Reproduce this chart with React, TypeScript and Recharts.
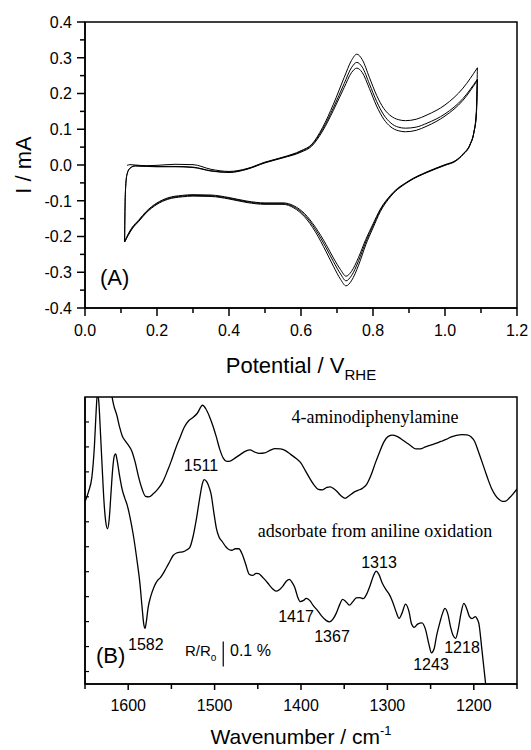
import { LineChart, Line, XAxis, YAxis, ReferenceArea, ReferenceLine, Label } from 'recharts'

const SANS = '"Liberation Sans", Arial, sans-serif'
const SERIF = '"Liberation Serif", "Times New Roman", serif'

// (A) cyclic voltammogram, three cycles
const cvXTicks = [0, 0.1, 0.2, 0.3, 0.4, 0.5, 0.6, 0.7, 0.8, 0.9, 1.0, 1.1, 1.2]
const cvYTicks = [-0.4, -0.35, -0.3, -0.25, -0.2, -0.15, -0.1, -0.05, 0, 0.05, 0.1, 0.15, 0.2, 0.25, 0.3, 0.35, 0.4]

const anodicV = [0.11, 0.111, 0.113, 0.117, 0.125, 0.14, 0.17, 0.2, 0.25, 0.3, 0.35, 0.4, 0.45, 0.5, 0.55, 0.6, 0.63, 0.66, 0.69, 0.72, 0.74, 0.755, 0.77, 0.79, 0.81, 0.83, 0.85, 0.87, 0.89, 0.92, 0.95, 1.0, 1.05, 1.09]
const anodicI1 = [null, null, null, -0.001, 0.001, 0.0, -0.002, -0.001, 0.002, 0.001, -0.012, -0.018, -0.01, 0.008, 0.022, 0.04, 0.058, 0.105, 0.17, 0.245, 0.292, 0.31, 0.295, 0.245, 0.195, 0.158, 0.137, 0.127, 0.124, 0.128, 0.14, 0.168, 0.215, 0.272]
const anodicI2 = [-0.215, -0.13, -0.06, -0.025, -0.009, -0.002, -0.003, -0.004, -0.004, -0.006, -0.016, -0.02, -0.011, 0.007, 0.021, 0.038, 0.056, 0.1, 0.16, 0.228, 0.272, 0.287, 0.274, 0.227, 0.178, 0.14, 0.117, 0.106, 0.103, 0.106, 0.117, 0.143, 0.186, 0.24]
const anodicI3 = [-0.215, -0.13, -0.06, -0.025, -0.009, -0.003, -0.004, -0.005, -0.005, -0.007, -0.017, -0.021, -0.012, 0.006, 0.02, 0.036, 0.053, 0.095, 0.153, 0.217, 0.258, 0.271, 0.259, 0.214, 0.165, 0.128, 0.106, 0.096, 0.093, 0.097, 0.109, 0.137, 0.181, 0.237]

const cathodicV = [0.11, 0.12, 0.13, 0.15, 0.17, 0.2, 0.23, 0.27, 0.3, 0.35, 0.4, 0.45, 0.5, 0.55, 0.58, 0.61, 0.64, 0.67, 0.69, 0.71, 0.725, 0.74, 0.76, 0.78, 0.8, 0.82, 0.85, 0.9, 0.95, 1.0, 1.03, 1.05, 1.07, 1.08, 1.087, 1.09]
const cathodicI1 = [-0.215, -0.197, -0.18, -0.157, -0.134, -0.11, -0.096, -0.089, -0.087, -0.088, -0.095, -0.105, -0.11, -0.11, -0.12, -0.145, -0.187, -0.243, -0.283, -0.32, -0.338, -0.324, -0.28, -0.223, -0.176, -0.131, -0.087, -0.046, -0.021, -0.001, 0.011, 0.029, 0.057, 0.09, 0.15, 0.272]
const cathodicI2 = [-0.215, -0.195, -0.178, -0.155, -0.132, -0.108, -0.094, -0.087, -0.085, -0.086, -0.093, -0.103, -0.108, -0.108, -0.117, -0.14, -0.18, -0.232, -0.27, -0.305, -0.324, -0.31, -0.268, -0.215, -0.17, -0.127, -0.085, -0.045, -0.02, 0.0, 0.012, 0.03, 0.058, 0.09, 0.14, 0.24]
const cathodicI3 = [-0.215, -0.193, -0.176, -0.153, -0.13, -0.106, -0.092, -0.085, -0.083, -0.084, -0.091, -0.101, -0.106, -0.106, -0.114, -0.136, -0.174, -0.223, -0.26, -0.293, -0.311, -0.298, -0.258, -0.208, -0.165, -0.124, -0.083, -0.044, -0.019, 0.001, 0.013, 0.031, 0.059, 0.09, 0.14, 0.237]

// (B) IR spectra, R/R0 in units of 0.1 %
const irXTicks = [1650, 1600, 1550, 1500, 1450, 1400, 1350, 1300, 1250, 1200, 1150]
const irYTicks = [0.5, 1.5, 2.5, 3.5, 4.5, 5.5, 6.5, 7.5, 8.5, 9.5, 10.5]

const adpaWn = [1650, 1640, 1630, 1623, 1620, 1617, 1613, 1610, 1607, 1603, 1600, 1596, 1592, 1588, 1584, 1580, 1576, 1571, 1566, 1560, 1555, 1550, 1545, 1540, 1535, 1530, 1525, 1520, 1514, 1510, 1506, 1502, 1498, 1494, 1490, 1486, 1482, 1476, 1470, 1464, 1459, 1454, 1448, 1442, 1436, 1430, 1424, 1418, 1412, 1406, 1400, 1395, 1390, 1385, 1380, 1375, 1370, 1366, 1362, 1358, 1354, 1349, 1344, 1339, 1334, 1329, 1324, 1319, 1314, 1309, 1304, 1299, 1294, 1289, 1284, 1279, 1273, 1267, 1262, 1256, 1250, 1244, 1238, 1232, 1226, 1220, 1214, 1208, 1203, 1199, 1195, 1191, 1187, 1183, 1179, 1175, 1171, 1167, 1163, 1159, 1155, 1150]
const adpaR = [13.5, 14, 14, 12.6, 11.8, 11.2, 10.75, 10.3, 9.95, 9.72, 9.58, 9.35, 8.9, 8.3, 7.82, 7.52, 7.5, 7.62, 7.8, 8.1, 8.5, 8.95, 9.45, 9.88, 10.3, 10.55, 10.68, 10.85, 11.17, 11.02, 10.72, 10.35, 9.9, 9.4, 9.05, 8.92, 8.93, 9.06, 9.2, 9.33, 9.38, 9.3, 9.24, 9.26, 9.36, 9.43, 9.42, 9.35, 9.2, 9.05, 8.85, 8.55, 8.25, 7.98, 7.8, 7.78, 7.88, 7.9, 7.82, 7.7, 7.55, 7.44, 7.55, 7.68, 7.76, 7.84, 8.0, 8.36, 8.85, 9.3, 9.7, 9.92, 9.97, 9.92, 9.82, 9.7, 9.55, 9.42, 9.42, 9.5, 9.57, 9.64, 9.72, 9.8, 9.9, 9.96, 9.99, 9.98, 9.9, 9.72, 9.35, 8.95, 8.55, 8.15, 7.8, 7.56, 7.4, 7.32, 7.33, 7.45, 7.6, 7.82]

const adsWn = [1650, 1646, 1642, 1639, 1637, 1635.5, 1634, 1632, 1630, 1628, 1626, 1624, 1622, 1620, 1618, 1616, 1614.5, 1613, 1610, 1607, 1604, 1601, 1598, 1594, 1590, 1586.5, 1584, 1582, 1580.5, 1579, 1577, 1574, 1570, 1566, 1563, 1560, 1556, 1552, 1548, 1544, 1540, 1536, 1532, 1529, 1525, 1521, 1517, 1514, 1512, 1509, 1506, 1504, 1501, 1498, 1495, 1491, 1487, 1483, 1480, 1476, 1472, 1468, 1464, 1460, 1456, 1452, 1449, 1445, 1441, 1437, 1433, 1429, 1425, 1421, 1417, 1413.5, 1410, 1407, 1404, 1401, 1397, 1394, 1390, 1386, 1381, 1376, 1371, 1367, 1363, 1359, 1355, 1352, 1348, 1344, 1340, 1336, 1332, 1328, 1324, 1320, 1316, 1313, 1310, 1306, 1302, 1298, 1294, 1290, 1286.5, 1283, 1279, 1275, 1272, 1269, 1265, 1260, 1256, 1252, 1249, 1246, 1243, 1239, 1236, 1233.5, 1230, 1227, 1224, 1221, 1218, 1215, 1211.5, 1208, 1205, 1202, 1198, 1196, 1194, 1191, 1188.5, 1186, 1183, 1180]
const adsR = [7.3, 7.7, 8.3, 9.6, 11, 11.7, 11.3, 10.0, 8.6, 7.3, 6.5, 6.22, 6.6, 7.6, 8.6, 9.15, 9.22, 9.0, 8.35, 7.8, 7.45, 7.15, 6.7, 5.95, 5.0, 4.05, 3.1, 2.4, 2.23, 2.5, 3.05, 3.5, 3.9, 4.15, 4.25, 4.4, 4.65, 4.9, 5.15, 5.25, 5.28, 5.3, 5.38, 5.45, 5.9, 6.63, 7.5, 8.05, 8.19, 8.1, 7.85, 7.6, 6.9, 6.25, 5.9, 5.7, 5.5, 5.38, 5.36, 5.42, 5.42, 5.2, 4.8, 4.4, 4.35, 4.43, 4.42, 4.3, 4.15, 3.98, 3.82, 3.72, 3.78, 3.92, 4.12, 4.19, 4.05, 3.85, 3.5, 3.3, 3.35, 3.43, 3.35, 3.15, 2.95, 2.72, 2.55, 2.49, 2.6, 2.85, 3.2, 3.39, 3.3, 3.16, 3.3, 3.45, 3.46, 3.42, 3.6, 3.95, 4.35, 4.52, 4.4, 4.05, 3.8, 3.6, 3.3, 2.9, 2.63, 2.85, 3.2, 2.9, 2.4, 2.27, 2.4, 2.45, 2.2, 1.6, 1.25, 1.4, 1.95, 2.5, 2.85, 3.03, 2.8, 2.3, 1.95, 1.83, 2.2, 2.8, 3.23, 3.0, 2.7, 2.62, 2.7, 2.6, 2.4, 1.5, 0.7, -0.1, -1.2, -2.2]

// scale bar: 0.1 % drawn at this wavenumber
const scaleBarWn = 1490
const scaleBarR = [0.7, 1.7]

const peakNames = ['1511', '1582', '1417', '1367', '1313', '1243', '1218']

const zip = (xs: number[], ys: (number | null)[], kx: string, ky: string) =>
  xs.map((x, i) => ({ [kx]: x, [ky]: ys[i] })).filter((d) => d[ky] !== null)

const CvXTick = ({ x, y, payload }: any) => {
  const v = payload.value
  const major = Math.round(v * 10) % 2 === 0
  return (
    <g>
      <line x1={x} x2={x} y1={y} y2={y + (major ? 8 : 5)} stroke="#000" strokeWidth={1.5} />
      {major && (
        <text x={x} y={y + 28} textAnchor="middle" fontSize={16} fontFamily={SANS} fill="#000">
          {v.toFixed(1)}
        </text>
      )}
    </g>
  )
}

const CvYTick = ({ x, y, payload }: any) => {
  const v = payload.value
  const major = Math.round(v * 100) % 10 === 0
  return (
    <g>
      <line x1={x} x2={x - (major ? 8 : 5)} y1={y} y2={y} stroke="#000" strokeWidth={1.5} />
      {major && (
        <text x={x - 13} y={y} dy="0.36em" textAnchor="end" fontSize={16} fontFamily={SANS} fill="#000">
          {v.toFixed(1)}
        </text>
      )}
    </g>
  )
}

const IrXTick = ({ x, y, payload }: any) => {
  const v = payload.value
  const major = v % 100 === 0
  return (
    <g>
      <line x1={x} x2={x} y1={y} y2={y + (major ? 6 : 5)} stroke="#000" strokeWidth={1.5} />
      {major && (
        <text x={x} y={y + 27} textAnchor="middle" fontSize={16} fontFamily={SANS} fill="#000">
          {v}
        </text>
      )}
    </g>
  )
}

const IrYTick = ({ x, y }: any) => (
  <line x1={x} x2={x + 4} y1={y} y2={y} stroke="#000" strokeWidth={1.2} />
)

const axisLine = { stroke: '#000', strokeWidth: 1.5 }

function CvPanel() {
  const anodic = [anodicI1, anodicI2, anodicI3].map((ys) => zip(anodicV, ys, 'v', 'i'))
  const cathodic = [cathodicI1, cathodicI2, cathodicI3].map((ys) => zip(cathodicV, ys, 'v', 'i'))
  return (
    <LineChart width={531} height={390} margin={{ top: 22, right: 14, bottom: 22, left: 0 }}>
      <XAxis
        type="number" dataKey="v" domain={[0, 1.2]} ticks={cvXTicks} interval={0}
        tickLine={false} tickSize={0} tickMargin={0} tick={<CvXTick />} axisLine={axisLine} height={60}
      >
        <Label content={() => (
          <text x={301} y={373} textAnchor="middle" fontSize={22} fontFamily={SANS} fill="#000">
            Potential / V<tspan dy={7} fontSize={15}>RHE</tspan>
          </text>
        )} />
      </XAxis>
      <YAxis
        type="number" domain={[-0.4, 0.4]} ticks={cvYTicks} interval={0}
        tickLine={false} tickSize={0} tickMargin={0} tick={<CvYTick />} axisLine={axisLine} width={85}
      >
        <Label content={() => (
          <g>
            <text x={31} y={165} transform="rotate(-90 31 165)" textAnchor="middle" fontSize={22} fontFamily={SANS} fill="#000">
              I / mA
            </text>
            <text x={100} y={285} fontSize={22} fontFamily={SANS} fill="#000">(A)</text>
          </g>
        )} />
      </YAxis>
      <ReferenceArea x1={0} x2={1.2} y1={-0.4} y2={0.4} fill="none" stroke="#000" strokeWidth={1.5} />
      {anodic.map((d, k) => (
        <Line key={'a' + k} data={d} dataKey="i" type="monotone" dot={false} stroke="#000" strokeWidth={1} isAnimationActive={false} />
      ))}
      {cathodic.map((d, k) => (
        <Line key={'c' + k} data={d} dataKey="i" type="monotone" dot={false} stroke="#000" strokeWidth={1} isAnimationActive={false} />
      ))}
    </LineChart>
  )
}

function IrPanel() {
  const adpa = zip(adpaWn, adpaR, 'w', 'r')
  const ads = zip(adsWn, adsR, 'w', 'r')
  const num = { fontSize: 16, fontFamily: SANS, fill: '#000' }
  // chart coordinates: page y minus 390
  const peaks = [
    { x: 201, y: 81, anchor: 'middle' },
    { x: 128, y: 260, anchor: 'start' },
    { x: 296, y: 232, anchor: 'middle' },
    { x: 332, y: 252, anchor: 'middle' },
    { x: 379, y: 178, anchor: 'middle' },
    { x: 431, y: 280, anchor: 'middle' },
    { x: 462, y: 263, anchor: 'middle' },
  ]
  return (
    <LineChart width={531} height={360} margin={{ top: 7, right: 14, bottom: 0, left: 0 }}>
      <XAxis
        type="number" dataKey="w" domain={[1150, 1650]} reversed allowDataOverflow ticks={irXTicks} interval={0}
        tickLine={false} tickSize={0} tickMargin={0} tick={<IrXTick />} axisLine={axisLine} height={66}
      >
        <Label content={() => (
          <text x={301} y={354} textAnchor="middle" fontSize={21} fontFamily={SANS} fill="#000">
            Wavenumber / cm<tspan dy={-9} fontSize={13}>-1</tspan>
          </text>
        )} />
      </XAxis>
      <YAxis
        type="number" domain={[0, 11.5]} allowDataOverflow ticks={irYTicks} interval={0}
        tickLine={false} tickSize={0} tickMargin={0} tick={<IrYTick />} axisLine={axisLine} width={85}
      >
        <Label content={() => (
          <g>
            <text x={375} y={33} textAnchor="middle" fontSize={18} fontFamily={SERIF} fill="#000">4-aminodiphenylamine</text>
            <text x={375} y={147} textAnchor="middle" fontSize={18} fontFamily={SERIF} fill="#000">adsorbate from aniline oxidation</text>
            {peaks.map((p, k) => (
              <text key={k} x={p.x} y={p.y} textAnchor={p.anchor as any} {...num}>{peakNames[k]}</text>
            ))}
            <text x={96} y={273} fontSize={22} fontFamily={SANS} fill="#000">(B)</text>
            <text x={185} y={266} fontSize={15} fontFamily={SANS} fill="#000">
              R/R<tspan dy={5} fontSize={10}>o</tspan>
            </text>
            <text x={230} y={266} {...num}>0.1 %</text>
          </g>
        )} />
      </YAxis>
      <ReferenceArea x1={1150} x2={1650} y1={0} y2={11.5} fill="none" stroke="#000" strokeWidth={1.5} />
      <ReferenceLine
        segment={[{ x: scaleBarWn, y: scaleBarR[0] }, { x: scaleBarWn, y: scaleBarR[1] }]}
        stroke="#000" strokeWidth={1.2}
      />
      <Line data={adpa} dataKey="r" type="monotone" dot={false} stroke="#000" strokeWidth={1.3} isAnimationActive={false} />
      <Line data={ads} dataKey="r" type="monotone" dot={false} stroke="#000" strokeWidth={1.3} isAnimationActive={false} />
    </LineChart>
  )
}

export default function App() {
  return (
    <div style={{ position: 'relative', width: 531, height: 750, background: '#fff' }}>
      <style>{'body{margin:0;background:#fff}'}</style>
      <div style={{ position: 'absolute', left: 0, top: 0 }}>
        <CvPanel />
      </div>
      <div style={{ position: 'absolute', left: 0, top: 390 }}>
        <IrPanel />
      </div>
    </div>
  )
}
